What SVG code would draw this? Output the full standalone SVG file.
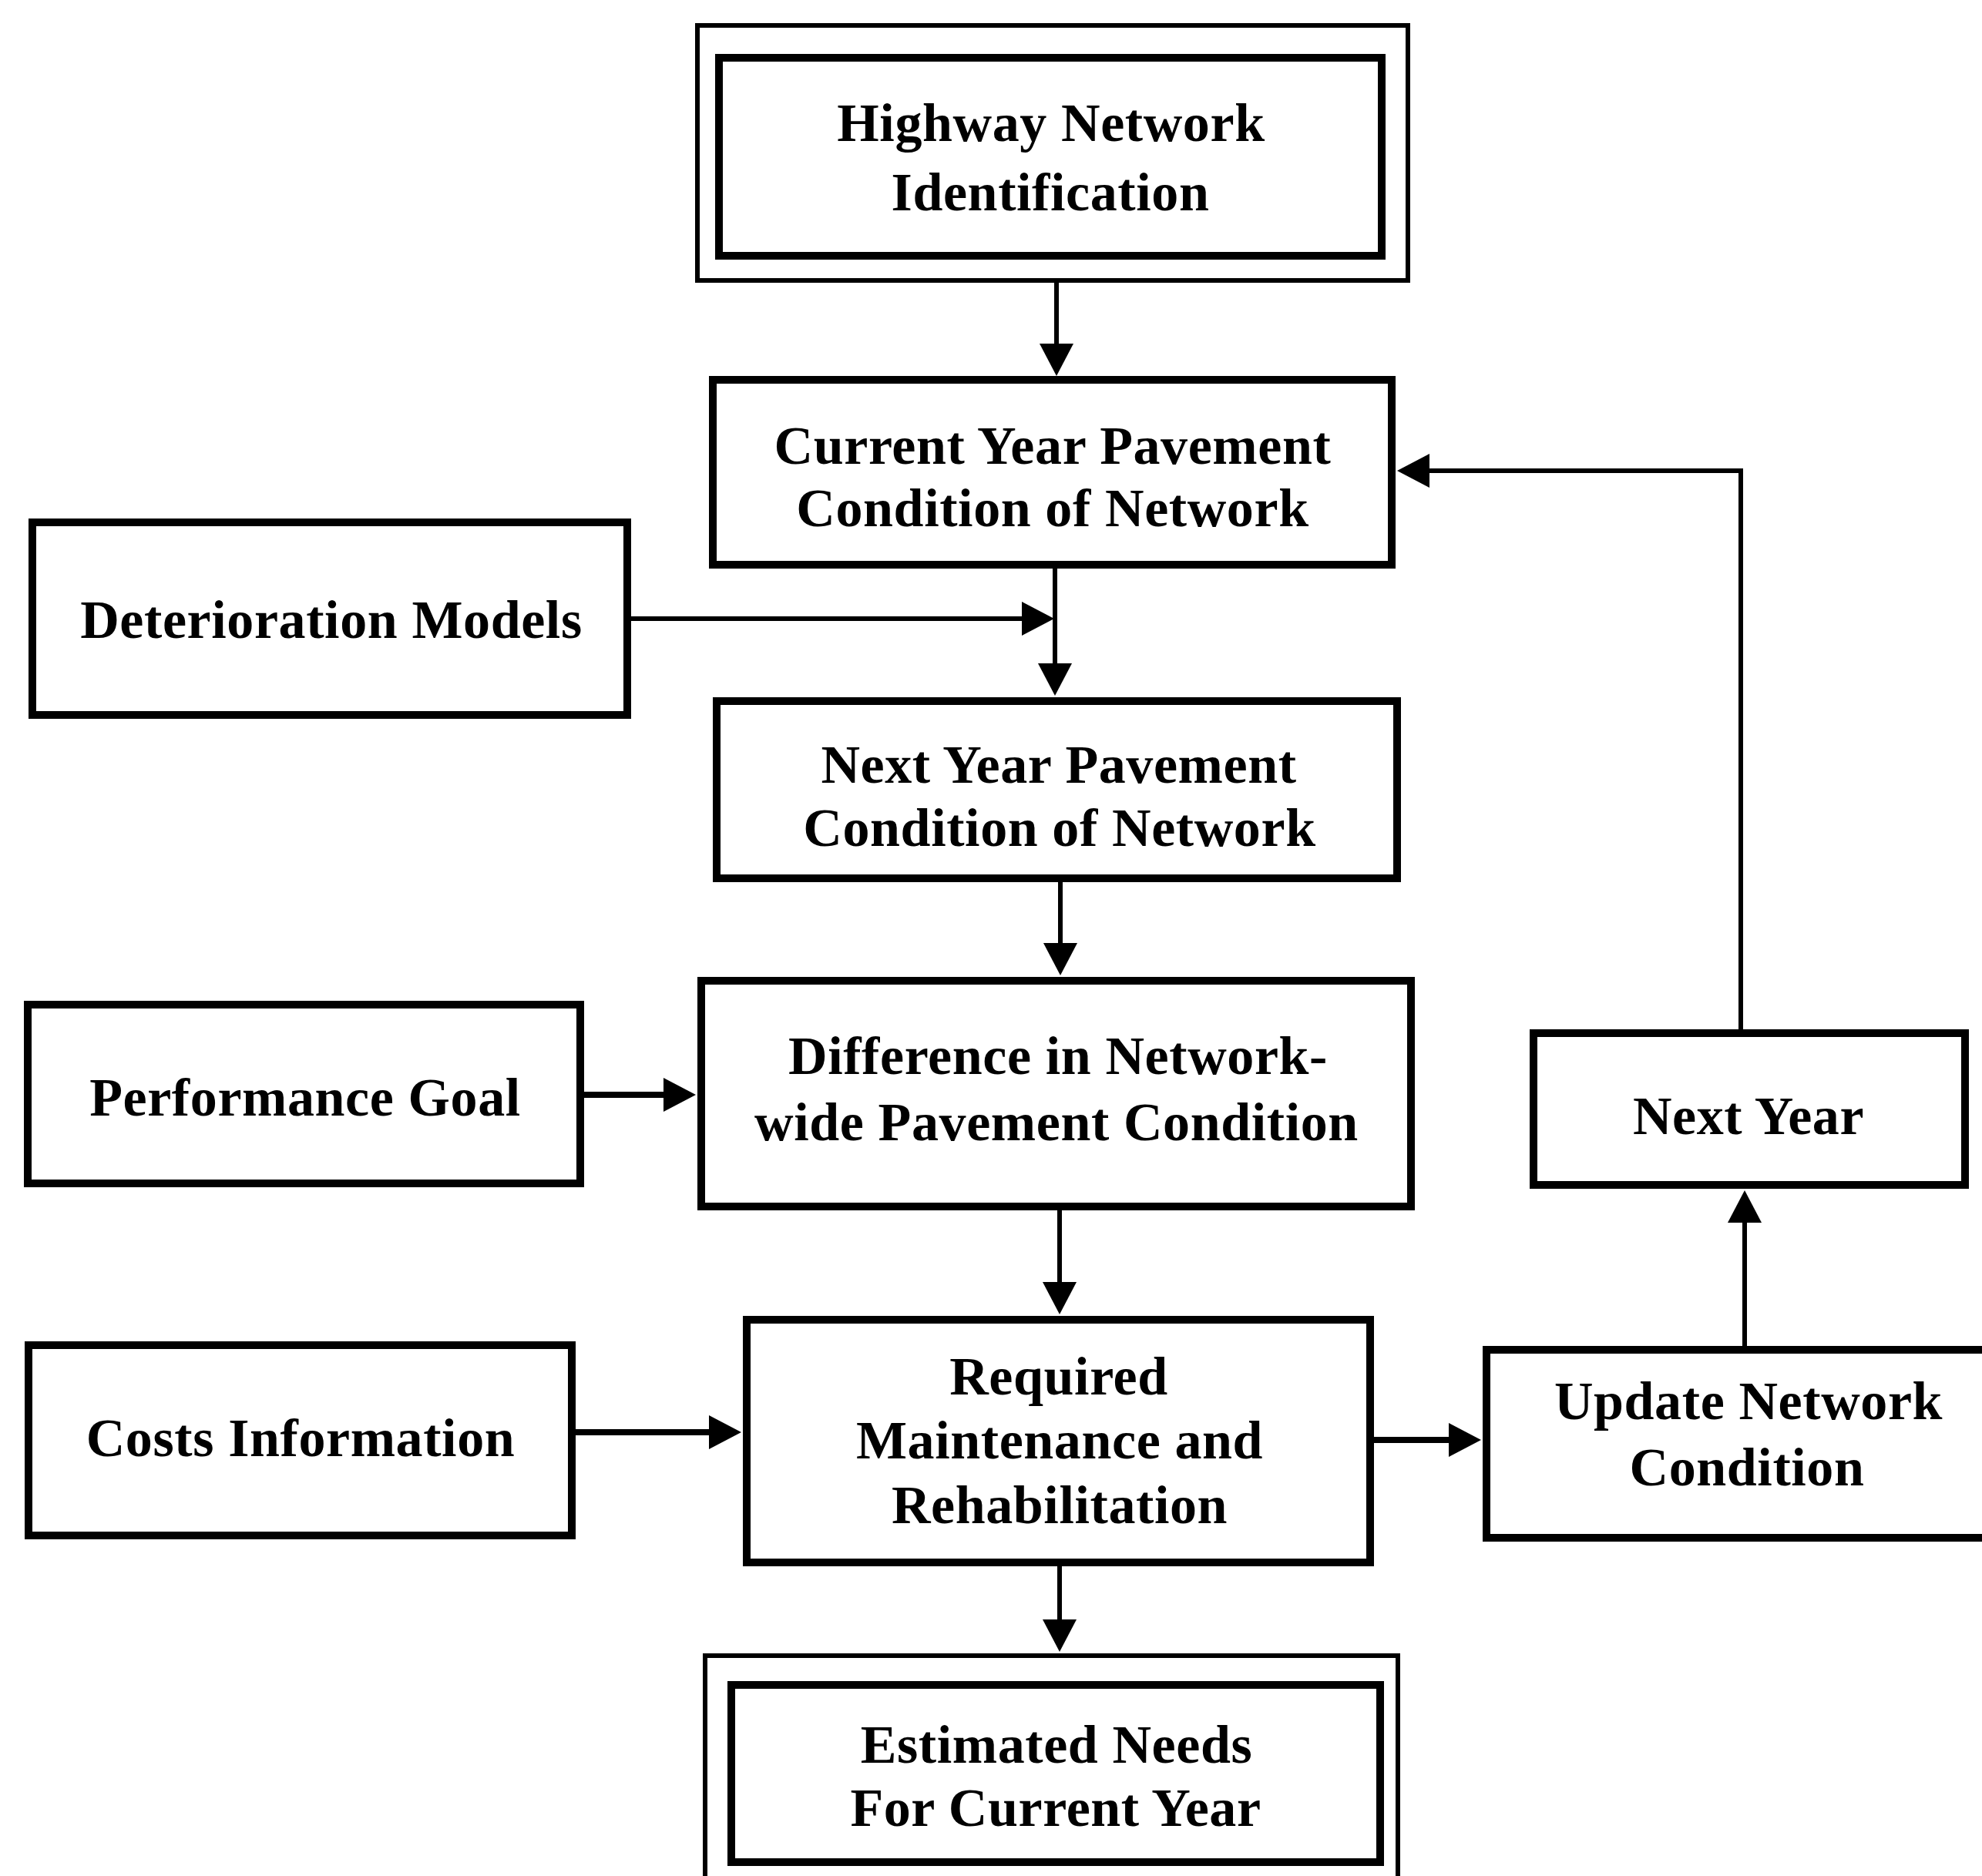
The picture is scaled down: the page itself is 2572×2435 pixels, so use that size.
<svg xmlns="http://www.w3.org/2000/svg" width="2572" height="2435" viewBox="0 0 2572 2435">
<style>
.box{fill:#fff;stroke:#000;stroke-width:10}
.outer{fill:#fff;stroke:#000;stroke-width:6}
.t{font-family:"Liberation Serif","Times New Roman",serif;font-weight:bold;font-size:70px;letter-spacing:0.6px;fill:#000;text-anchor:middle}
.c{fill:none;stroke:#000;stroke-width:6}
.cw{fill:none;stroke:#000;stroke-width:8}
</style>
<defs>
<marker id="ah" viewBox="0 0 42 44" refX="22" refY="22" markerWidth="42" markerHeight="44" markerUnits="userSpaceOnUse" orient="auto">
<path d="M0,0 L42,22 L0,44 z" fill="#000"/>
</marker>
</defs>
<rect width="2572" height="2435" fill="#fff"/>
<g id="connectors">
<path class="c" d="M1371,367 V468" marker-end="url(#ah)"/>
<path class="c" d="M1369,738 V883" marker-end="url(#ah)"/>
<path class="c" d="M819,803 H1348" marker-end="url(#ah)"/>
<path class="c" d="M1376,1145 V1246" marker-end="url(#ah)"/>
<path class="cw" d="M758,1421 H883" marker-end="url(#ah)"/>
<path class="c" d="M1375,1571 V1686" marker-end="url(#ah)"/>
<path class="cw" d="M747,1859 H942" marker-end="url(#ah)"/>
<path class="cw" d="M1783,1869 H1902" marker-end="url(#ah)"/>
<path class="c" d="M2264,1747 V1565" marker-end="url(#ah)"/>
<path class="c" d="M2259,1336 V611 H1833" marker-end="url(#ah)"/>
<path class="c" d="M1375,2033 V2124" marker-end="url(#ah)"/>
</g>
<g id="highway">
<rect class="outer" x="905" y="33" width="922" height="331"/>
<rect class="box" x="933" y="75" width="860" height="257"/>
<text class="t" x="1364" y="183">Highway Network</text>
<text class="t" x="1363" y="273">Identification</text>
</g>
<g id="current">
<rect class="box" x="925" y="493" width="881" height="240"/>
<text class="t" x="1366" y="602">Current Year Pavement</text>
<text class="t" x="1366" y="683">Condition of Network</text>
</g>
<g id="deterioration">
<rect class="box" x="42" y="678" width="772" height="250"/>
<text class="t" x="430" y="828">Deterioration Models</text>
</g>
<g id="nextpavement">
<rect class="box" x="930" y="910" width="883" height="230"/>
<text class="t" x="1374" y="1016">Next Year Pavement</text>
<text class="t" x="1375" y="1098">Condition of Network</text>
</g>
<g id="difference">
<rect class="box" x="910" y="1273" width="921" height="293"/>
<text class="t" x="1373" y="1394">Difference in Network-</text>
<text class="t" x="1371" y="1480">wide Pavement Condition</text>
</g>
<g id="performance">
<rect class="box" x="36" y="1304" width="717" height="232"/>
<text class="t" x="396" y="1448">Performance Goal</text>
</g>
<g id="nextyear">
<rect class="box" x="1990" y="1341" width="560" height="197"/>
<text class="t" x="2269" y="1472">Next Year</text>
</g>
<g id="required">
<rect class="box" x="969" y="1713" width="809" height="315"/>
<text class="t" x="1374" y="1810">Required</text>
<text class="t" x="1375" y="1893">Maintenance and</text>
<text class="t" x="1375" y="1977">Rehabilitation</text>
</g>
<g id="costs">
<rect class="box" x="37" y="1746" width="705" height="247"/>
<text class="t" x="390" y="1890">Costs Information</text>
</g>
<g id="update">
<rect class="box" x="1929" y="1752" width="700" height="244"/>
<text class="t" x="2269" y="1842">Update Network</text>
<text class="t" x="2267" y="1928">Condition</text>
</g>
<g id="estimated">
<rect class="outer" x="915" y="2149" width="899" height="320"/>
<rect class="box" x="949" y="2187" width="842" height="230"/>
<text class="t" x="1371" y="2288">Estimated Needs</text>
<text class="t" x="1370" y="2370">For Current Year</text>
</g>
</svg>
